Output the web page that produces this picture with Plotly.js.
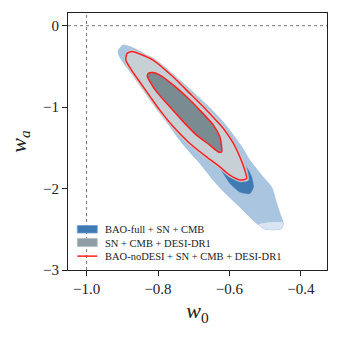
<!DOCTYPE html>
<html>
<head>
<meta charset="utf-8">
<script src="https://cdn.plot.ly/plotly-3.0.1.min.js"></script>
<style>
  html, body { margin: 0; padding: 0; background: #fff; }
  #chart { width: 339px; height: 339px; }
</style>
</head>
<body>
<div id="chart"></div>
<script>
// contour outlines, (w0, wa)
const baoFull95W0 = [-0.898,-0.879,-0.842,-0.795,-0.747,-0.711,-0.663,-0.615,-0.587,-0.565,-0.543,-0.506,-0.482,-0.468,-0.459,-0.449,-0.454,-0.481,-0.505,-0.533,-0.571,-0.617,-0.645,-0.683,-0.711,-0.739,-0.767,-0.804,-0.832,-0.860,-0.888,-0.907,-0.912];
const baoFull95Wa = [-0.237,-0.256,-0.336,-0.483,-0.643,-0.779,-0.975,-1.197,-1.357,-1.492,-1.652,-1.857,-1.984,-2.181,-2.304,-2.427,-2.492,-2.507,-2.492,-2.390,-2.226,-2.033,-1.898,-1.689,-1.553,-1.406,-1.234,-0.988,-0.803,-0.656,-0.508,-0.385,-0.311];

// paler tip at the low end of the BAO-full region
const baoFullTipW0 = [-0.520,-0.492,-0.450,-0.449,-0.454,-0.481,-0.505];
const baoFullTipWa = [-2.445,-2.415,-2.415,-2.427,-2.492,-2.507,-2.492];

const baoFull68W0 = [-0.837,-0.781,-0.711,-0.641,-0.590,-0.568,-0.547,-0.538,-0.533,-0.543,-0.571,-0.599,-0.617,-0.629,-0.655,-0.697,-0.744,-0.789,-0.823,-0.839];
const baoFull68Wa = [-0.570,-0.668,-0.877,-1.135,-1.406,-1.627,-1.775,-1.857,-1.980,-2.061,-2.042,-1.935,-1.815,-1.738,-1.640,-1.467,-1.221,-0.975,-0.766,-0.643];

const desi95W0 = [-0.890,-0.873,-0.848,-0.811,-0.754,-0.706,-0.660,-0.613,-0.585,-0.565,-0.551,-0.547,-0.571,-0.601,-0.629,-0.667,-0.713,-0.761,-0.799,-0.827,-0.855,-0.880,-0.894];
const desi95Wa = [-0.323,-0.293,-0.330,-0.403,-0.609,-0.813,-1.018,-1.246,-1.437,-1.603,-1.769,-1.898,-1.916,-1.855,-1.753,-1.630,-1.467,-1.261,-1.055,-0.883,-0.711,-0.551,-0.434];

const noDesi95W0 = [-0.887,-0.873,-0.851,-0.814,-0.758,-0.711,-0.664,-0.617,-0.589,-0.571,-0.557,-0.552,-0.571,-0.599,-0.627,-0.664,-0.711,-0.757,-0.795,-0.823,-0.851,-0.876,-0.890];
const noDesi95Wa = [-0.342,-0.317,-0.348,-0.422,-0.627,-0.831,-1.037,-1.262,-1.446,-1.611,-1.775,-1.877,-1.895,-1.836,-1.734,-1.611,-1.446,-1.242,-1.037,-0.865,-0.692,-0.533,-0.422];

const inner68W0 = [-0.827,-0.814,-0.795,-0.757,-0.720,-0.683,-0.645,-0.627,-0.622,-0.622,-0.631,-0.655,-0.692,-0.729,-0.767,-0.804,-0.825,-0.830];
const inner68Wa = [-0.585,-0.576,-0.606,-0.729,-0.873,-1.037,-1.221,-1.365,-1.488,-1.550,-1.550,-1.467,-1.344,-1.181,-0.996,-0.812,-0.668,-0.619];

const labels = ['BAO-full + SN + CMB', 'SN + CMB + DESI-DR1', 'BAO-noDESI + SN + CMB + DESI-DR1'];
const xTicks = [-1.0, -0.8, -0.6, -0.4];
const yTicks = [0, -1, -2, -3];

const close = a => a.concat([a[0]]);
const minus = v => String(v).replace('-', '\u2212');

function patch(xs, ys, fill, edge) {
  return {
    x: close(xs), y: close(ys),
    type: 'scatter', mode: 'lines', fill: 'toself',
    fillcolor: fill, line: { color: edge, width: 0.6, shape: 'spline', smoothing: 0.6 },
    showlegend: false, hoverinfo: 'skip',
  };
}
function outline(xs, ys) {
  return {
    x: close(xs), y: close(ys),
    type: 'scatter', mode: 'lines',
    line: { color: '#ff2020', width: 1.5, shape: 'spline', smoothing: 0.6 },
    showlegend: false, hoverinfo: 'skip',
  };
}

const traces = [
  patch(baoFull95W0, baoFull95Wa, '#aac5e0', '#93b4d6'),
  patch(baoFullTipW0, baoFullTipWa, 'rgba(255,255,255,0.55)', 'rgba(0,0,0,0)'),
  patch(baoFull68W0, baoFull68Wa, '#3f7ab3', '#3f7ab3'),
  patch(desi95W0, desi95Wa, '#c7d0d5', '#b9c3c9'),
  patch(inner68W0, inner68Wa, '#7a8b91', '#7a8b91'),
  outline(noDesi95W0, noDesi95Wa),
  outline(inner68W0, inner68Wa),
];

const font = 'Liberation Serif, DejaVu Serif, serif';

// legend drawn by hand so rows sit as tight as in the original
const legendRows = [0.158, 0.105, 0.054];
const legendShapes = [
  { type: 'rect', xref: 'paper', yref: 'paper', x0: 0.036, x1: 0.113, y0: 0.144, y1: 0.173,
    fillcolor: '#3f7ab4', line: { color: '#6f9ccb', width: 0.8 } },
  { type: 'rect', xref: 'paper', yref: 'paper', x0: 0.036, x1: 0.113, y0: 0.091, y1: 0.123,
    fillcolor: '#8f9ea3', line: { color: '#b3bfc3', width: 0.8 } },
  { type: 'line', xref: 'paper', yref: 'paper', x0: 0.036, x1: 0.113, y0: 0.054, y1: 0.054,
    line: { color: '#ff2020', width: 1.5 } },
];
const legendText = labels.map((t, i) => ({
  text: t, xref: 'paper', yref: 'paper', x: 0.136, y: legendRows[i],
  xanchor: 'left', yanchor: 'middle', showarrow: false,
  font: { size: 10.5, family: font, color: '#222' },
}));

Plotly.newPlot('chart', traces, {
  width: 339, height: 339,
  margin: { l: 68, r: 12, t: 13, b: 69 },
  paper_bgcolor: '#fff', plot_bgcolor: '#fff',
  font: { family: font, color: '#222' },
  showlegend: false,
  xaxis: {
    range: [-1.052, -0.327], tickvals: xTicks,
    ticktext: xTicks.map(v => minus(v.toFixed(1))),
    ticks: 'outside', ticklen: 5, tickcolor: '#222', showgrid: false, zeroline: false,
    showline: true, mirror: true, linecolor: '#222', linewidth: 1,
    tickfont: { size: 15, family: font },
    title: { text: '<i>w</i><sub>0</sub>', font: { size: 22, family: font }, standoff: 6 },
  },
  yaxis: {
    range: [-3, 0.156], tickvals: yTicks,
    ticktext: yTicks.map(v => minus(v)),
    ticks: 'outside', ticklen: 5, tickcolor: '#222', showgrid: false, zeroline: false,
    showline: true, mirror: true, linecolor: '#222', linewidth: 1,
    tickfont: { size: 15, family: font },
    title: { text: '<i>w</i><sub><i>a</i></sub>', font: { size: 22, family: font }, standoff: 10 },
  },
  shapes: [
    { type: 'line', xref: 'x', yref: 'paper', x0: -1, x1: -1, y0: 0, y1: 1,
      line: { color: '#777', width: 1, dash: 'dot' }, layer: 'below' },
    { type: 'line', xref: 'paper', yref: 'y', x0: 0, x1: 1, y0: 0, y1: 0,
      line: { color: '#777', width: 1, dash: 'dot' }, layer: 'below' },
    ...legendShapes,
  ],
  annotations: legendText,
}, { displayModeBar: false, staticPlot: true });
</script>
</body>
</html>
